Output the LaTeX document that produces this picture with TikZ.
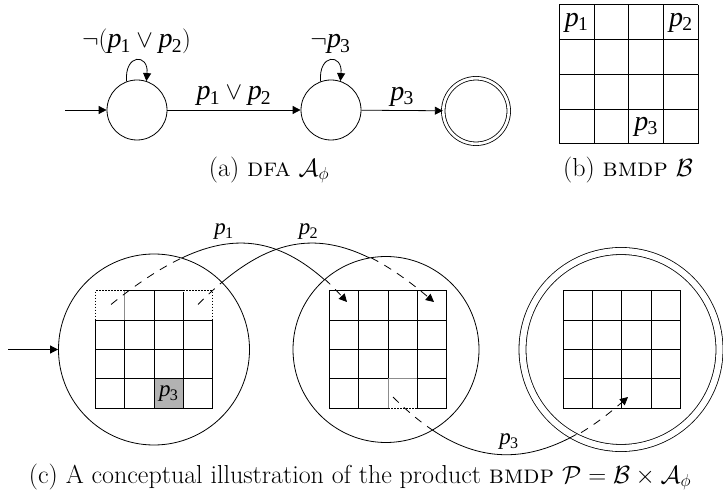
\documentclass[tikz,border=0pt]{standalone}
\usepackage{fontspec}
\newfontfamily\tms{Liberation Serif}
\usetikzlibrary{arrows.meta}
\newcommand\pv[1]{\mbox{{\tms\itshape p}\kern-0.03em\textsubscript{\tms #1}}}
\newcommand\cgrid[3]{%
  \begin{scope}[shift={(#1,#2)}]
    \foreach \i in {0,...,4} {
      \draw[gridline] (\i*#3,0) -- (\i*#3,4*#3);
      \draw[gridline] (0,\i*#3) -- (4*#3,\i*#3);
    }
  \end{scope}}
\begin{document}
\begin{tikzpicture}[x=1pt,y=-1pt,
  every node/.style={inner sep=0pt},
  state/.style={circle,draw,line width=0.8pt,minimum size=60pt},
  acc/.style={double,double distance=2.7pt},
  arr/.style={line width=0.8pt,-{Triangle[length=8pt,width=8pt]}},
  lbl/.style={font=\fontsize{28}{30}\selectfont},
  clbl/.style={font=\fontsize{23}{25}\selectfont},
  captext/.style={font=\fontsize{26}{30}\selectfont},
  gridline/.style={line width=1pt},
  dotline/.style={line width=0.9pt,dash pattern=on 1.5pt off 1.5pt},
  dashline/.style={line width=0.8pt,dash pattern=on 8pt off 7pt},
  solidline/.style={line width=0.8pt},
  erase/.style={white,line width=1.6pt},
  grayline/.style={black!45,line width=1pt}
]
\useasboundingbox (0,0) rectangle (723,494);

% ---------- (a) DFA ----------
\node[state] (q0) at (137,110) {};
\node[state] (q1) at (331,110) {};
\node[state,acc,minimum size=65.5pt] (q2) at (476,111) {};
\coordinate (init) at (65,110);
\draw[arr] (init) -- (q0);
\draw[arr] (q0) -- node[lbl,above=4pt]{$\pv1\vee\pv2$} (q1);
\draw[arr] (q1) -- node[lbl,above=4pt]{$\pv3$} (q2);
\draw[arr] (q0.110) .. controls +(-95:28) and +(-85:28) .. node[lbl,above=6pt]{$\neg(\pv1\vee\pv2)$} (q0.72);
\draw[arr] (q1.110) .. controls +(-95:28) and +(-85:28) .. node[lbl,above=6pt]{$\neg\pv3$} (q1.72);
\node[captext] (capa) at (269,170) {(a) \textsc{dfa} $\mathcal{A}_\phi$};

% ---------- (b) BMDP ----------
\cgrid{559.3}{5}{34.75}
\node[lbl] (b1) at (576.7,22.4) {\pv1};
\node[lbl] (b2) at (680.9,22.4) {\pv2};
\node[lbl] (b3) at (646.2,126.6) {\pv3};
\node[captext] (capb) at (628,170) {(b) \textsc{bmdp} $\mathcal{B}$};

% ---------- (c) product ----------
\node[state,minimum size=191pt] (C1) at (154,349.5) {};
\node[state,minimum size=186pt] (C2) at (386,349.5) {};
\node[state,acc,minimum size=197pt,double distance=6.2pt] (C3) at (621,349.5) {};
\coordinate (initc) at (8,349.5);
\draw[arr] (initc) -- (C1);

% grid 1
\fill[black!30] (154,378.2) rectangle (183.3,407.5);
\cgrid{95.4}{290.9}{29.3}
\draw[erase] (95.4,290.9) -- (124.7,290.9);
\draw[erase] (95.4,290.9) -- (95.4,320.2);
\draw[erase] (183.3,290.9) -- (212.6,290.9);
\draw[erase] (212.6,290.9) -- (212.6,320.2);
\draw[dotline] (124.7,290.9) -- (95.4,290.9) -- (95.4,320.2);
\draw[dotline] (183.3,290.9) -- (212.6,290.9) -- (212.6,320.2);
\draw[grayline] (124.7,290.9) -- (124.7,320.2);
\node[clbl] (g13) at (168.7,394) {\pv3};

% grid 2
\cgrid{329.4}{290.9}{29.3}
\draw[erase] (388,408.1) -- (417.3,408.1);
\draw[erase] (388,378.8) -- (417.3,378.8);
\draw[erase] (388,378.8) -- (388,408.1);
\draw[dotline] (388,408.1) -- (417.3,408.1);
\draw[grayline] (388,408.1) -- (388,378.8) -- (417.3,378.8);

% grid 3
\cgrid{563.3}{290.9}{29.3}

% transitions
\coordinate (s1) at (111,304.5);
\coordinate (t1) at (347,302);
\coordinate (s2) at (198,304.5);
\coordinate (t2) at (434,302);
\coordinate (s3) at (393,397);
\coordinate (t3) at (628,397);
\begin{scope}
  \clip (C1.center) circle[radius=95.5];
  \draw[dashline] (s1) .. controls (212.5,223) and (274.7,223) .. (t1);
  \draw[dashline] (s2) .. controls (279,223) and (340,223) .. (t2);
\end{scope}
\begin{scope}
  \clip (C2.center) circle[radius=93];
  \draw[dashline,arr] (s1) .. controls (212.5,223) and (274.7,223) .. (t1);
  \draw[dashline,arr] (s2) .. controls (279,223) and (340,223) .. (t2);
  \draw[dashline] (s3) .. controls (470,474) and (540,474) .. (t3);
\end{scope}
\begin{scope}
  \clip (C3.center) circle[radius=96];
  \draw[dashline,arr] (s3) .. controls (470,474) and (540,474) .. (t3);
\end{scope}
\begin{scope}[even odd rule]
  \clip (0,0) rectangle (723,494) (C1.center) circle[radius=95.5] (C2.center) circle[radius=93] (C3.center) circle[radius=96];
  \draw[solidline] (s1) .. controls (212.5,223) and (274.7,223) .. (t1);
  \draw[solidline] (s2) .. controls (279,223) and (340,223) .. (t2);
  \draw[solidline] (s3) .. controls (470,474) and (540,474) .. (t3);
\end{scope}
\node[clbl] (l1) at (224,232) {\pv1};
\node[clbl] (l2) at (308.5,232) {\pv2};
\node[clbl] (l3) at (509,442) {\pv3};

\node[captext] (capc) at (360,477) {(c) A conceptual illustration of the product \textsc{bmdp} $\mathcal{P}=\mathcal{B}\times\mathcal{A}_\phi$};
\end{tikzpicture}
\end{document}
